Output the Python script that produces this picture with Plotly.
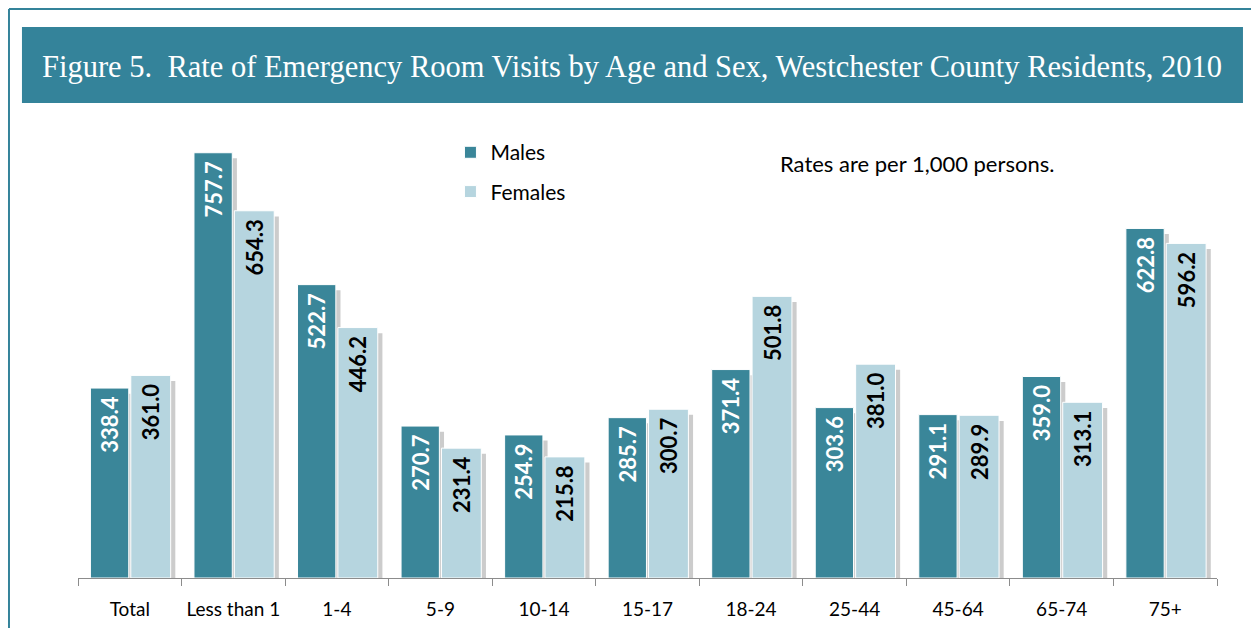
import plotly.graph_objects as go

age_groups = ["Total", "Less than 1", "1-4", "5-9", "10-14", "15-17",
              "18-24", "25-44", "45-64", "65-74", "75+"]
males = [338.4, 757.7, 522.7, 270.7, 254.9, 285.7, 371.4, 303.6, 291.1, 359.0, 622.8]
females = [361.0, 654.3, 446.2, 231.4, 215.8, 300.7, 501.8, 381.0, 289.9, 313.1, 596.2]

MALE_COL = "#3a8699"
FEMALE_COL = "#b6d5df"
TEAL = "#34839a"
SHADOW = "rgba(0,0,0,0.2)"
PAD = "\u2005"  # small gap between label and bar top

fig = go.Figure()

# soft drop shadows behind the bars
for vals, off, w in [(males, -0.335, 0.37), (females, 0.055, 0.385)]:
    fig.add_trace(go.Bar(
        x=age_groups, y=vals, base=-10, offset=off, width=w,
        marker=dict(color=SHADOW, line=dict(width=0)),
        showlegend=False, hoverinfo="skip",
    ))

fig.add_trace(go.Bar(
    name="Males", x=age_groups, y=males, offset=-0.38, width=0.37,
    marker=dict(color=MALE_COL, line=dict(color="white", width=1)),
    text=[f"{v:.1f}{PAD}" for v in males], textposition="inside",
    insidetextanchor="end", textangle=-90,
    textfont=dict(family="Lato", size=22, color="white", weight="bold"),
    legendgroup="m",
))
fig.add_trace(go.Bar(
    name="Females", x=age_groups, y=females, offset=0.01, width=0.385,
    marker=dict(color=FEMALE_COL, line=dict(color="white", width=1)),
    text=[f"{v:.1f}{PAD}" for v in females], textposition="inside",
    insidetextanchor="end", textangle=-90,
    textfont=dict(family="Lato", size=22, color="black", weight="bold"),
    legendgroup="f",
))

fig.update_layout(
    width=1243, height=620,
    margin=dict(l=70, r=34, t=121, b=50),
    paper_bgcolor="white", plot_bgcolor="white",
    barmode="overlay",
    font=dict(family="Lato", color="black"),
    uniformtext=dict(mode=False),
    legend=dict(x=0.327, y=0.993, xanchor="left", yanchor="top",
                font=dict(size=21, family="Lato"), tracegroupgap=9,
                bgcolor="rgba(0,0,0,0)"),
    xaxis=dict(showline=True, linecolor="#8c8c8c", linewidth=1,
               ticks="outside", tickson="boundaries", ticklen=7,
               tickcolor="#8c8c8c", tickfont=dict(size=19), tickangle=0,
               showgrid=False, automargin=False,
               ticklabelstandoff=14, range=[-0.5, 10.5]),
    yaxis=dict(range=[0, 800], visible=False),
    shapes=[
        # page frame (top and left edges)
        dict(type="line", xref="paper", yref="paper", x0=-0.0606, x1=1.1,
             y0=1.267, y1=1.267, line=dict(color=TEAL, width=2)),
        dict(type="line", xref="paper", yref="paper", x0=-0.0606, x1=-0.0606,
             y0=1.267, y1=-0.2, line=dict(color=TEAL, width=2)),
        # title banner
        dict(type="rect", xref="paper", yref="paper", x0=-0.0492, x1=1.0228,
             y0=1.0579, y1=1.2272, fillcolor=TEAL, line=dict(width=0),
             layer="below"),
    ],
    annotations=[
        dict(text="Figure 5.  Rate of Emergency Room Visits by Age and Sex, Westchester County Residents, 2010",
             xref="paper", yref="paper", x=-0.0334, y=1.138, xanchor="left",
             yanchor="middle", showarrow=False,
             font=dict(family="Liberation Serif", size=30.5, color="white")),
        dict(text="Rates are per 1,000 persons.", xref="paper", yref="paper",
             x=0.6146, y=0.924, xanchor="left", yanchor="middle",
             showarrow=False, font=dict(family="Lato", size=22, color="black")),
    ],
)

fig.write_html("out.html")
